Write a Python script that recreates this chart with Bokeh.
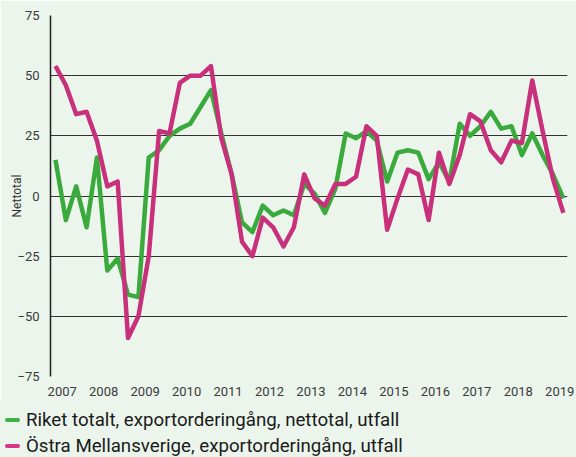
from bokeh.plotting import figure
from bokeh.layouts import column
from bokeh.models import FixedTicker, Range1d, Div
from bokeh.embed import file_html
from bokeh.resources import INLINE

# --- data -------------------------------------------------------------
years = ["2007", "2008", "2009", "2010", "2011", "2012", "2013",
         "2014", "2015", "2016", "2017", "2018", "2019"]

riket = [15, -10, 4, -13, 16, -31, -26, -41, -42, 16,
         19, 25, 28, 30, 37, 44, 26, 9, -11, -15,
         -4, -8, -6, -8, 5, 1, -7, 3, 26, 24,
         27, 23, 6, 18, 19, 18, 7, 14, 6, 30,
         25, 29, 35, 28, 29, 17, 26, 17, 9, -1]

ostra = [54, 46, 34, 35, 23, 4, 6, -59, -50, -25,
         27, 26, 47, 50, 50, 54, 24, 9, -19, -25,
         -9, -13, -21, -13, 9, -1, -4, 5, 5, 8,
         29, 25, -14, -1, 11, 9, -10, 18, 5, 17,
         34, 31, 19, 14, 23, 22, 48, 27, 7, -7]

y_ticks = [-75, -50, -25, 0, 25, 50, 75]

label_riket = "Riket totalt, exportorderingång, nettotal, utfall"
label_ostra = "Östra Mellansverige, exportorderingång, utfall"

GREEN = "#3aaa3c"
PINK = "#c9307b"
BG = "#ebf5ec"
FONT = "Roboto"

x = list(range(len(riket)))

p = figure(width=576, height=400, output_backend="svg", toolbar_location=None,
           x_range=Range1d(-0.48, len(riket) - 1 + 0.4), y_range=Range1d(-75, 75),
           min_border_left=50, min_border_right=9, min_border_top=15,
           min_border_bottom=24)

p.background_fill_color = BG
p.border_fill_color = BG
p.outline_line_color = None

r1 = p.line(x, riket, line_color=GREEN, line_width=4.5, line_join="round")
r2 = p.line(x, ostra, line_color=PINK, line_width=4.5, line_join="round")

# x axis: year labels
xticks = [4 * k + 0.65 for k in range(len(years))]
p.xaxis.ticker = FixedTicker(ticks=xticks)
p.xaxis.major_label_overrides = {t: y for t, y in zip(xticks, years)}
p.xaxis.axis_line_color = None
p.xaxis.major_tick_line_color = None
p.xaxis.minor_tick_line_color = None
p.xaxis.major_label_standoff = 4
p.xaxis.major_label_text_font = FONT
p.xaxis.major_label_text_font_size = "13px"
p.xaxis.major_label_text_color = "#3a3a3a"
p.xgrid.grid_line_color = None

# y axis
p.yaxis.ticker = FixedTicker(ticks=y_ticks)
p.yaxis.axis_line_color = "#222222"
p.yaxis.axis_line_width = 1.5
p.yaxis.major_tick_line_color = None
p.yaxis.minor_tick_line_color = None
p.yaxis.major_label_standoff = 5
p.yaxis.major_label_text_font = FONT
p.yaxis.major_label_text_font_size = "13px"
p.yaxis.major_label_text_color = "#3a3a3a"
p.yaxis.axis_label = "Nettotal"
p.yaxis.axis_label_text_font = FONT
p.yaxis.axis_label_text_font_size = "12px"
p.yaxis.axis_label_text_font_style = "normal"
p.yaxis.axis_label_text_color = "#333333"
p.yaxis.axis_label_standoff = -10
p.ygrid.ticker = FixedTicker(ticks=y_ticks)
p.ygrid.grid_line_color = "#333333"
p.ygrid.grid_line_width = 1.2

# --- legend strip below the chart -------------------------------------
def legend_row(color, label, top):
    return (f'<div style="position:absolute;left:5px;top:{top}px;height:24px;'
            f'display:flex;align-items:center;white-space:nowrap">'
            f'<span style="display:inline-block;width:15px;height:4px;'
            f'border-radius:2px;background:{color};margin-right:6px"></span>'
            f'{label}</div>')

legend_html = ('<div style="position:relative;width:576px;height:57px;">'
               + legend_row("#3db046", label_riket, 8)
               + legend_row("#d8358a", label_ostra, 34)
               + '</div>')

legend = Div(text=legend_html, width=576, height=57, margin=0,
             styles={"background-color": BG, "font-family": FONT,
                     "font-size": "18.7px", "color": "#1a1a1a",
                     "line-height": "24px"})

layout = column(p, legend, spacing=0)
open("out.html", "w").write(file_html(layout, INLINE))
